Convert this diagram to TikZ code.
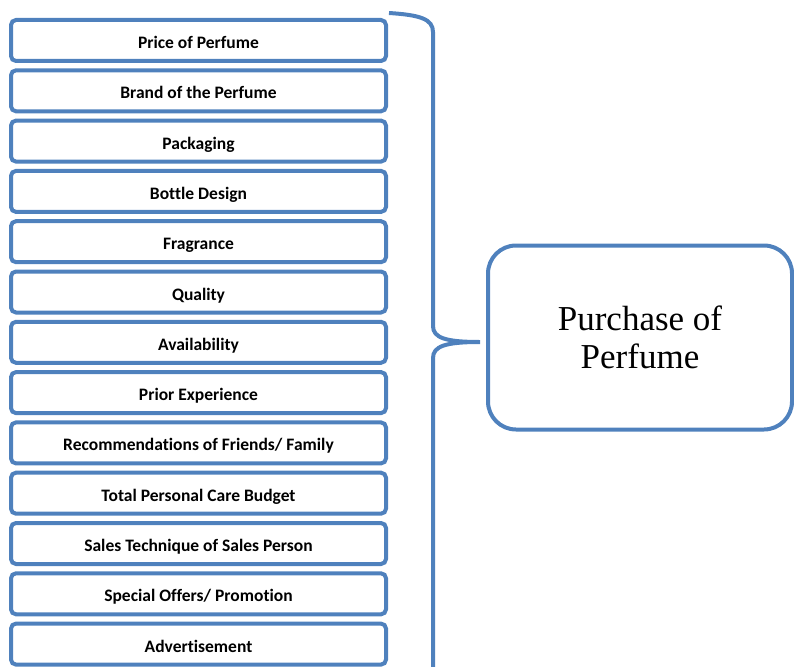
\documentclass[tikz,border=0pt]{standalone}
\usepackage{fontspec}
\setmainfont{Liberation Serif}
\newfontfamily\factorfont[Ligatures=NoCommon]{Carlito}
\usepackage{tikz}
\definecolor{frameblue}{RGB}{79,129,189}
\tikzset{
  factor/.style={draw=frameblue,line width=4pt,rounded corners=5pt,
    minimum width=375pt,minimum height=41pt,inner sep=0pt,
    text height=16pt,text depth=0pt,font=\factorfont\bfseries\fontsize{17.5}{19}\selectfont},
  outcome/.style={draw=frameblue,line width=4pt,rounded corners=28pt,
    minimum width=304pt,minimum height=184pt,align=center,
    font=\fontsize{35}{38}\selectfont},
  brace/.style={draw=frameblue,line width=4pt}
}

\begin{document}
\begin{tikzpicture}[x=1pt,y=-1pt]
  \useasboundingbox (0,0) rectangle (794,666);
  \node[factor] (f1) at (198.5,40.5) {Price of Perfume};
  \node[factor] (f2) at (198.5,90.8) {Brand of the Perfume};
  \node[factor] (f3) at (198.5,141.1) {Packaging};
  \node[factor] (f4) at (198.5,191.4) {Bottle Design};
  \node[factor] (f5) at (198.5,241.7) {Fragrance};
  \node[factor] (f6) at (198.5,292.0) {Quality};
  \node[factor] (f7) at (198.5,342.3) {Availability};
  \node[factor] (f8) at (198.5,392.6) {Prior Experience};
  \node[factor] (f9) at (198.5,442.9) {Recommendations of Friends/ Family};
  \node[factor] (f10) at (198.5,493.2) {Total Personal Care Budget};
  \node[factor] (f11) at (198.5,543.5) {Sales Technique of Sales Person};
  \node[factor] (f12) at (198.5,593.8) {Special Offers/ Promotion};
  \node[factor] (f13) at (198.5,644.1) {Advertisement};
  \node[outcome] (buy) at (640,337.5) {Purchase of\\Perfume};
  \coordinate (bracetop) at (389,13);
  \coordinate (bracetip) at (480,342);
  \coordinate (bracebot) at (433,690);
  \draw[brace] (bracetop) .. controls (420,15) and (433,19) .. (433,32)
    -- (433,326) .. controls (433,338) and (446,342) .. (bracetip)
    .. controls (446,342) and (433,346) .. (433,358) -- (bracebot);
\end{tikzpicture}
\end{document}
